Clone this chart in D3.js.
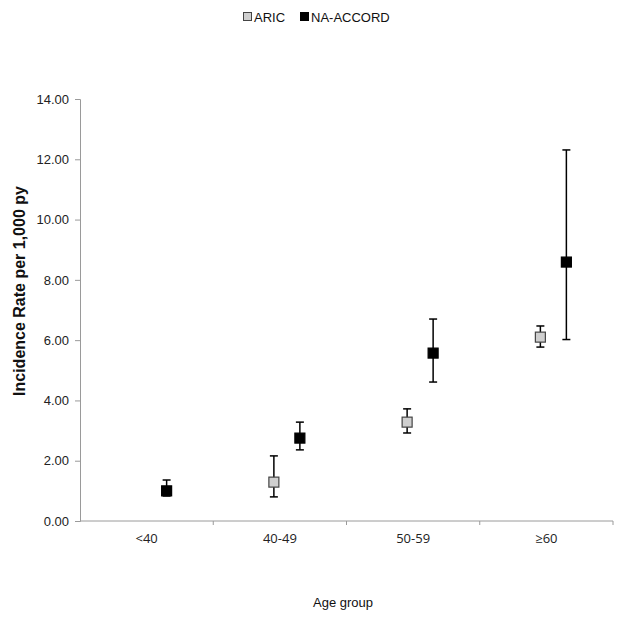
<!DOCTYPE html>
<html>
<head>
<meta charset="utf-8">
<script src="https://cdn.jsdelivr.net/npm/d3@7"></script>
<style>
  body { margin: 0; background: #fff; }
  svg { display: block; }
</style>
</head>
<body>
<div id="chart"></div>
<script>
// data
var ageGroups = ['<40', '40-49', '50-59', '\u226560'];
var aricRate = [null, 1.29, 3.28, 6.10];
var aricLow  = [null, 0.80, 2.92, 5.77];
var aricHigh = [null, 2.16, 3.72, 6.47];
var naRate = [1.00, 2.75, 5.57, 8.59];
var naLow  = [0.83, 2.36, 4.61, 6.02];
var naHigh = [1.36, 3.28, 6.70, 12.31];
var yTicks = [0, 2, 4, 6, 8, 10, 12, 14];

var w = 624, h = 620;
var svg = d3.select('#chart').append('svg').attr('width', w).attr('height', h);

var xScale = d3.scaleBand().domain(ageGroups).range([80, 613]);
var yScale = d3.scaleLinear().domain([0, 14]).range([521, 99]);

var axisColor = '#9a9a9a';

// y axis
var yAxis = d3.axisLeft(yScale).tickValues(yTicks).tickFormat(d3.format('.2f')).tickSize(5).tickPadding(6);
var gy = svg.append('g').attr('transform', 'translate(80,0)').call(yAxis);
gy.select('.domain').attr('stroke', axisColor);
gy.selectAll('.tick line').attr('stroke', axisColor);
gy.selectAll('.tick text').attr('fill', '#222').style('font-family', 'Liberation Sans, Arial, sans-serif').style('font-size', '13px');

// x axis: ticks at category boundaries
var gx = svg.append('g').attr('transform', 'translate(0,521)');
gx.append('line').attr('x1', 80).attr('x2', 613).attr('stroke', axisColor);
var bounds = ageGroups.map(function(d){ return xScale(d); }).concat([xScale.range()[1]]);
gx.selectAll('line.tk').data(bounds.slice(1)).enter().append('line').attr('class', 'tk')
    .attr('x1', function(d){ return d; }).attr('x2', function(d){ return d; })
    .attr('y1', 0).attr('y2', 4).attr('stroke', axisColor);
gx.selectAll('text').data(ageGroups).enter().append('text')
    .attr('x', function(d){ return xScale(d) + xScale.bandwidth()/2; })
    .attr('y', 22)
    .attr('text-anchor', 'middle')
    .attr('fill', '#222')
    .style('font-family', 'Open Sans, sans-serif').style('font-size', '13px')
    .text(function(d){ return d; });

// axis titles
svg.append('text').attr('transform', 'translate(25,291) rotate(-90)')
    .attr('text-anchor', 'middle').attr('fill', '#111')
    .style('font-family', 'Liberation Sans, Arial, sans-serif').style('font-size', '16px').style('font-weight', 'bold')
    .text('Incidence Rate per 1,000 py');
svg.append('text').attr('x', 343).attr('y', 607).attr('text-anchor', 'middle').attr('fill', '#111')
    .style('font-family', 'Liberation Sans, Arial, sans-serif').style('font-size', '13px')
    .text('Age group');

// series
var series = [
  {name: 'ARIC', rate: aricRate, low: aricLow, high: aricHigh, offset: -6, fill: '#cfcfcf', stroke: '#444'},
  {name: 'NA-ACCORD', rate: naRate, low: naLow, high: naHigh, offset: 20, fill: '#000', stroke: '#000'}
];

series.forEach(function(s){
  var pts = ageGroups.map(function(g, i){
    return {x: xScale(g) + xScale.bandwidth()/2 + s.offset, v: s.rate[i], lo: s.low[i], hi: s.high[i]};
  }).filter(function(d){ return d.v != null; });
  var g = svg.append('g');
  g.selectAll('line.bar').data(pts).enter().append('line')
      .attr('x1', function(d){ return d.x; }).attr('x2', function(d){ return d.x; })
      .attr('y1', function(d){ return yScale(d.lo); }).attr('y2', function(d){ return yScale(d.hi); })
      .attr('stroke', '#000').attr('stroke-width', 1.5);
  [ 'lo', 'hi' ].forEach(function(k){
    g.selectAll('line.cap' + k).data(pts).enter().append('line')
        .attr('x1', function(d){ return d.x - 4; }).attr('x2', function(d){ return d.x + 4; })
        .attr('y1', function(d){ return yScale(d[k]); }).attr('y2', function(d){ return yScale(d[k]); })
        .attr('stroke', '#000').attr('stroke-width', 1.5);
  });
  g.selectAll('rect').data(pts).enter().append('rect')
      .attr('x', function(d){ return d.x - 5; }).attr('y', function(d){ return yScale(d.v) - 5; })
      .attr('width', 10).attr('height', 10)
      .attr('fill', s.fill).attr('stroke', s.stroke).attr('stroke-width', 1.2);
});

// legend
var legend = svg.append('g').attr('transform', 'translate(243,12)');
var legX = [0, 57];
series.forEach(function(s, i){
  legend.append('rect').attr('x', legX[i] + 0.5).attr('y', 0.5).attr('width', 8).attr('height', 8)
      .attr('fill', s.fill).attr('stroke', s.stroke);
  legend.append('text').attr('x', legX[i] + 11).attr('y', 9.5)
      .attr('fill', '#111')
      .style('font-family', 'Liberation Sans, Arial, sans-serif').style('font-size', '13px')
      .text(s.name);
});
</script>
</body>
</html>
